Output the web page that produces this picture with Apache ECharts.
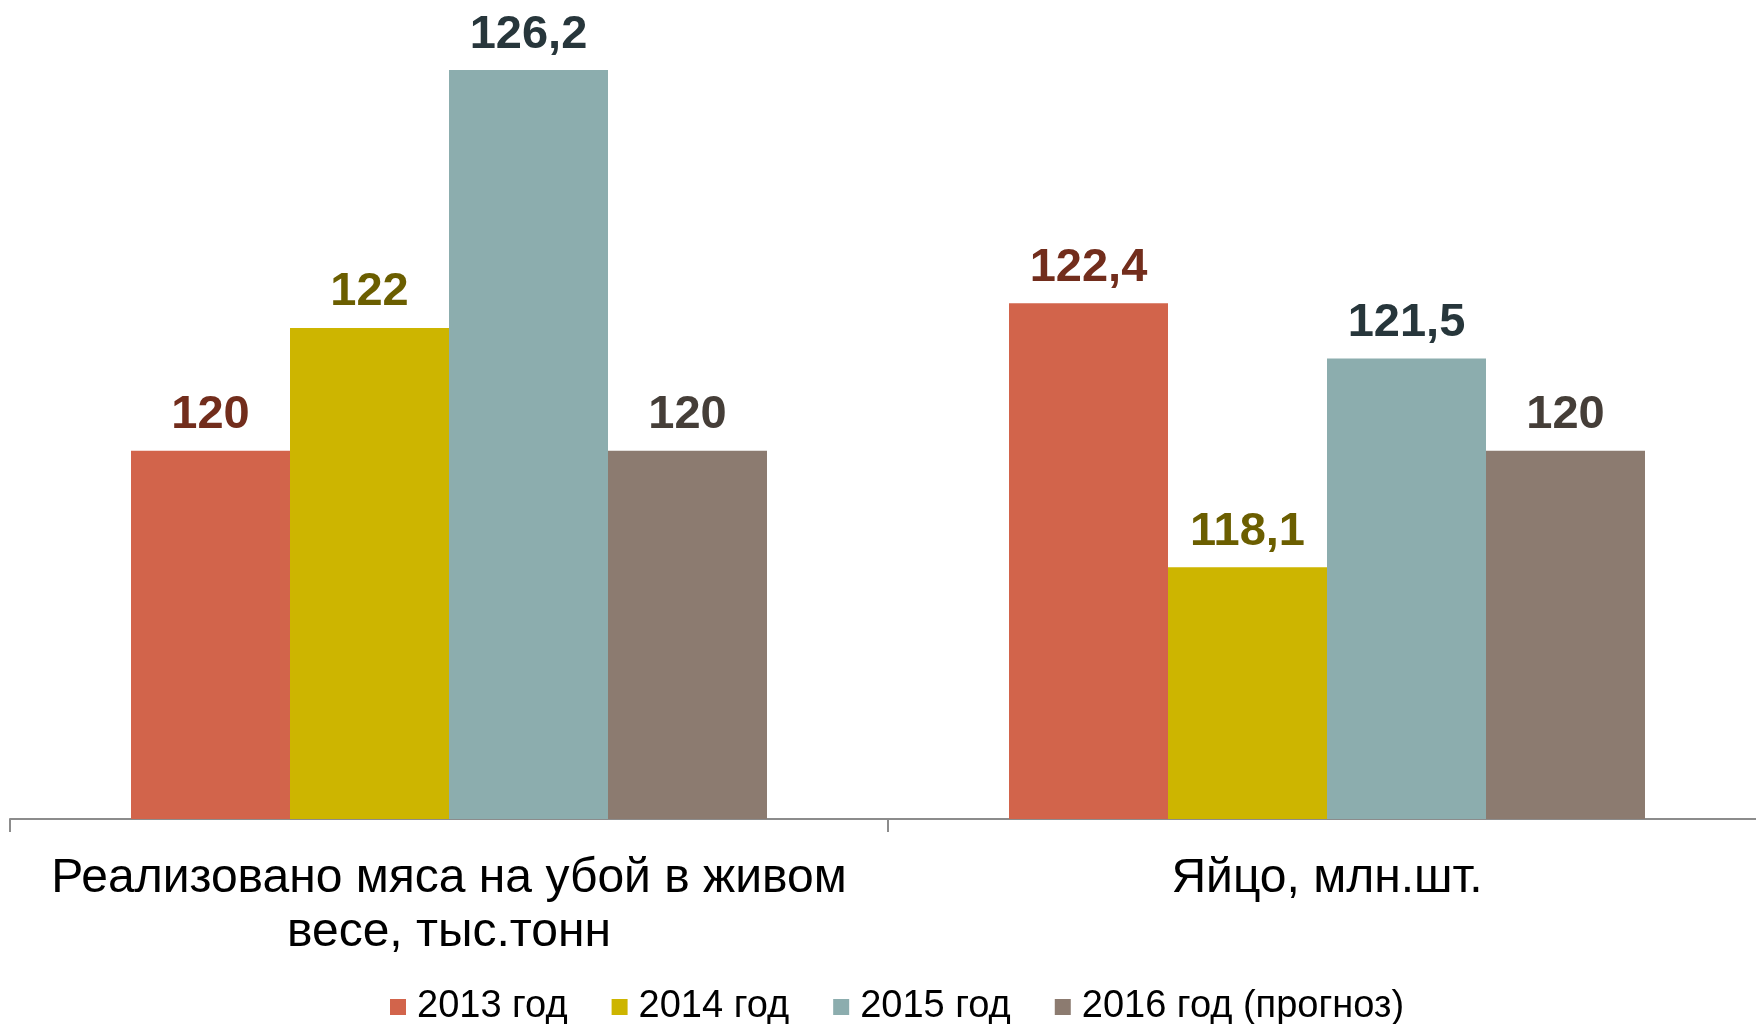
<!DOCTYPE html>
<html>
<head>
<meta charset="utf-8">
<script src="https://cdn.jsdelivr.net/npm/echarts@6/dist/echarts.min.js"></script>
<style>
  html, body { margin: 0; padding: 0; background: #fff; }
  #chart { width: 1756px; height: 1024px; }
</style>
</head>
<body>
<div id="chart"></div>
<script>
// Data
var categories = ['Реализовано мяса на убой в живом весе, тыс.тонн', 'Яйцо, млн.шт.'];
var seriesNames = ['2013 год', '2014 год', '2015 год', '2016 год (прогноз)'];
var values2013 = [120, 122.4];
var values2014 = [122, 118.1];
var values2015 = [126.2, 121.5];
var values2016 = [120, 120];

(function() {
  var barColors = ['#D2644B', '#CDB500', '#8CADAE', '#8C7B70'];
  var labelColors = ['#722D1C', '#6B5E00', '#27363B', '#453E38'];
  var allValues = [values2013, values2014, values2015, values2016];
  var font = '"Liberation Sans", Arial, sans-serif';

  var series = allValues.map(function(vals, i) {
    return {
      name: seriesNames[i],
      type: 'bar',
      data: vals,
      barWidth: 159,
      barGap: '0%',
      itemStyle: { color: barColors[i] },
      label: {
        show: true,
        position: 'top',
        distance: 12,
        color: labelColors[i],
        fontSize: 47,
        fontWeight: 'bold',
        fontFamily: font,
        formatter: function(p) { return String(p.value).replace('.', ','); }
      }
    };
  });

  var chart = echarts.init(document.getElementById('chart'), null, { renderer: 'canvas' });
  chart.setOption({
    animation: false,
    legend: {
      data: seriesNames,
      left: 385,
      top: 983,
      icon: 'rect',
      itemWidth: 16,
      itemHeight: 16,
      itemGap: 44,
      textStyle: { color: '#000', fontSize: 38, fontFamily: font, padding: [0, 0, 0, 6] }
    },
    // the plot runs a little past the right edge, as in the reference
    grid: { left: 10, right: -10, top: 21, bottom: 205, containLabel: false, outerBoundsMode: 'none' },
    xAxis: {
      type: 'category',
      data: categories,
      axisLine: { lineStyle: { color: '#8C8C8C', width: 2 } },
      axisTick: { show: true, length: 13, lineStyle: { color: '#8C8C8C', width: 2 } },
      axisLabel: {
        color: '#000',
        fontSize: 48,
        lineHeight: 54,
        fontFamily: font,
        margin: 33,
        interval: 0,
        // line break as in the reference
        formatter: function(v) { return v.replace(' весе,', '\nвесе,'); }
      }
    },
    yAxis: {
      type: 'value',
      min: 114,
      max: 127,
      show: false,
      splitLine: { show: false }
    },
    series: series
  });

  window.addEventListener('resize', function() { chart.resize(); });
})();
</script>
</body>
</html>
